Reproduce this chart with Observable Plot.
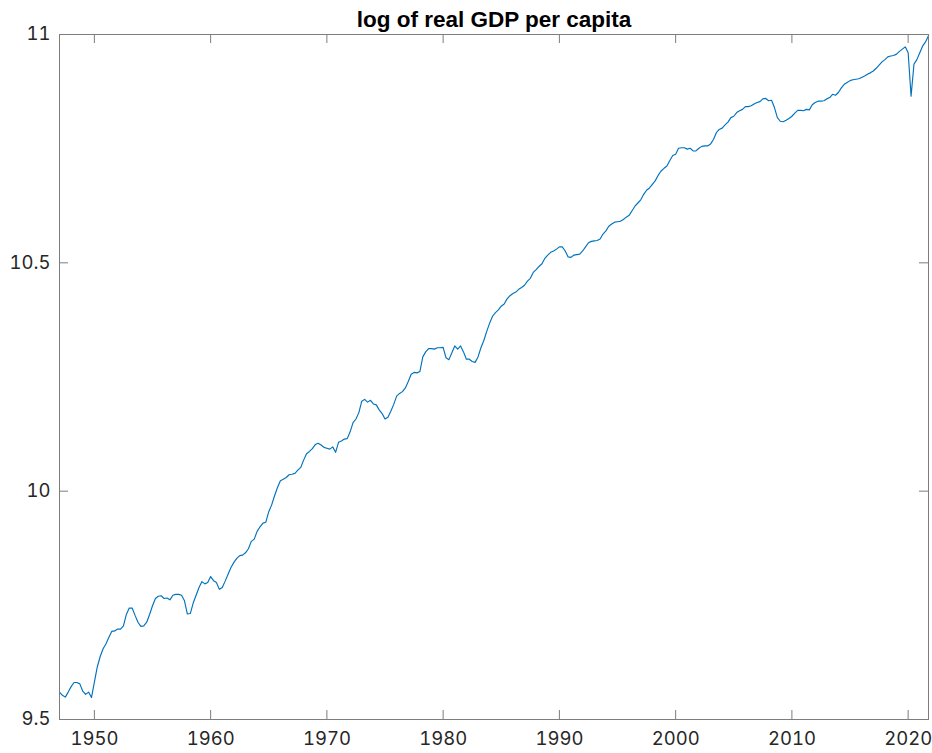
<!DOCTYPE html>
<html>
<head>
<meta charset="utf-8">
<script src="https://cdn.jsdelivr.net/npm/d3@7"></script>
<script src="https://cdn.jsdelivr.net/npm/@observablehq/plot@0.6"></script>
<style>
  html, body { margin: 0; padding: 0; background: #fff; }
  #chart svg { display: block; }
</style>
</head>
<body>
<div id="chart"></div>
<script>
const chartTitle = "log of real GDP per capita";
const startYear = 1947; // first quarter: 1947 Q1
const xTicks = [1950, 1960, 1970, 1980, 1990, 2000, 2010, 2020];
const yTicks = [9.5, 10, 10.5, 11];

// quarterly values of log real GDP per capita
const q1940s = [9.560, 9.553, 9.549, 9.560, 9.572, 9.581, 9.581, 9.578, 9.562, 9.555, 9.560, 9.548];
const q1950s = [
  9.582, 9.615, 9.638, 9.655, 9.666, 9.680, 9.693, 9.694, 9.698, 9.698, 9.705, 9.730,
  9.744, 9.744, 9.728, 9.713, 9.704, 9.705, 9.713, 9.730, 9.749, 9.765, 9.770, 9.771,
  9.765, 9.766, 9.762, 9.772, 9.774, 9.774, 9.772, 9.760, 9.731, 9.732, 9.755, 9.772,
  9.789, 9.802, 9.797, 9.800];
const q1960s = [
  9.813, 9.804, 9.800, 9.785, 9.789, 9.803, 9.818, 9.833, 9.844, 9.853, 9.859, 9.860,
  9.865, 9.874, 9.890, 9.895, 9.912, 9.922, 9.930, 9.932, 9.955, 9.970, 9.990, 10.008,
  10.023, 10.026, 10.030, 10.036, 10.037, 10.039, 10.046, 10.052, 10.068, 10.082, 10.087, 10.093,
  10.102, 10.105, 10.101, 10.096];
const q1970s = [
  10.094, 10.092, 10.097, 10.085, 10.107, 10.110, 10.114, 10.115, 10.130, 10.150, 10.158, 10.172,
  10.197, 10.201, 10.195, 10.199, 10.191, 10.189, 10.178, 10.170, 10.158, 10.162, 10.175, 10.190,
  10.208, 10.214, 10.218, 10.226, 10.240, 10.256, 10.260, 10.259, 10.262, 10.294, 10.305, 10.312,
  10.312, 10.311, 10.314, 10.314];
const q1980s = [
  10.315, 10.292, 10.288, 10.303, 10.318, 10.311, 10.318, 10.305, 10.289, 10.289, 10.284, 10.282,
  10.294, 10.314, 10.330, 10.350, 10.368, 10.383, 10.391, 10.397, 10.405, 10.410, 10.421, 10.428,
  10.433, 10.436, 10.442, 10.446, 10.451, 10.460, 10.466, 10.479, 10.485, 10.492, 10.498, 10.510,
  10.517, 10.523, 10.526, 10.530];
const q1990s = [
  10.535, 10.535, 10.526, 10.513, 10.512, 10.517, 10.518, 10.519, 10.526, 10.535, 10.544, 10.547,
  10.548, 10.549, 10.552, 10.563, 10.570, 10.580, 10.585, 10.589, 10.590, 10.591, 10.595, 10.600,
  10.604, 10.614, 10.624, 10.631, 10.638, 10.650, 10.659, 10.664, 10.672, 10.680, 10.692, 10.701,
  10.707, 10.712, 10.724, 10.735];
const q2000s = [
  10.738, 10.751, 10.752, 10.752, 10.749, 10.751, 10.745, 10.745, 10.751, 10.755, 10.756, 10.756,
  10.760, 10.770, 10.785, 10.792, 10.795, 10.802, 10.808, 10.818, 10.821, 10.829, 10.833, 10.836,
  10.842, 10.842, 10.844, 10.848, 10.851, 10.853, 10.859, 10.860, 10.855, 10.856, 10.840, 10.818,
  10.810, 10.809, 10.812, 10.816];
const q2010s = [
  10.821, 10.828, 10.834, 10.834, 10.833, 10.836, 10.835, 10.846, 10.851, 10.854, 10.854, 10.855,
  10.859, 10.862, 10.869, 10.867, 10.873, 10.883, 10.891, 10.895, 10.899, 10.901, 10.902, 10.903,
  10.906, 10.909, 10.913, 10.916, 10.920, 10.926, 10.933, 10.940, 10.945, 10.951, 10.953, 10.954,
  10.957, 10.963, 10.968, 10.973];
const q2020s = [10.960, 10.865, 10.935, 10.945, 10.960, 10.975, 10.984, 10.997];

const values = [...q1940s, ...q1950s, ...q1960s, ...q1970s, ...q1980s, ...q1990s, ...q2000s, ...q2010s, ...q2020s];
const data = values.map((v, i) => ({t: startYear + i / 4, v}));

const W = 932, H = 753;
const mL = 59, mR = 4, mT = 34, mB = 34;
const innerW = W - mL - mR, innerH = H - mT - mB;
const tickLen = 9;
const axisColor = "#7d7d7d";
const tickFont = "Inter, 'Liberation Sans', Arial, sans-serif";
const titleFont = "'Liberation Sans', Arial, Helvetica, sans-serif";

const chart = Plot.plot({
  width: W,
  height: H,
  marginLeft: mL,
  marginRight: mR,
  marginTop: mT,
  marginBottom: mB,
  style: {fontFamily: tickFont, fontSize: "18.5px", color: "#262626", background: "#fff", overflow: "visible"},
  x: {domain: [startYear, startYear + (values.length - 1) / 4]},
  y: {domain: [9.5, 11]},
  marks: [
    Plot.line(data, {x: "t", y: "v", stroke: "#0072BD", strokeWidth: 1.15}),
    // inward ticks on all four sides
    Plot.ruleX(xTicks, {x: d => d, insetTop: innerH - tickLen, stroke: axisColor, strokeWidth: 1}),
    Plot.ruleX(xTicks, {x: d => d, insetBottom: innerH - tickLen, stroke: axisColor, strokeWidth: 1}),
    Plot.ruleY(yTicks, {y: d => d, insetRight: innerW - tickLen, stroke: axisColor, strokeWidth: 1}),
    Plot.ruleY(yTicks, {y: d => d, insetLeft: innerW - tickLen, stroke: axisColor, strokeWidth: 1}),
    Plot.frame({stroke: axisColor, strokeWidth: 1}),
    Plot.axisX({ticks: xTicks, tickSize: 0, tickPadding: 12, tickFormat: d => String(d), label: null, fill: "#262626"}),
    Plot.axisY({ticks: yTicks, tickSize: 0, tickPadding: 9, tickFormat: d => String(d), label: null, fill: "#262626"}),
    Plot.text([chartTitle], {frameAnchor: "top", dy: -8, lineAnchor: "bottom", text: d => d, fontFamily: titleFont, fontWeight: "bold", fontSize: 22.5, fill: "#000"})
  ]
});
document.getElementById("chart").appendChild(chart);
</script>
</body>
</html>
